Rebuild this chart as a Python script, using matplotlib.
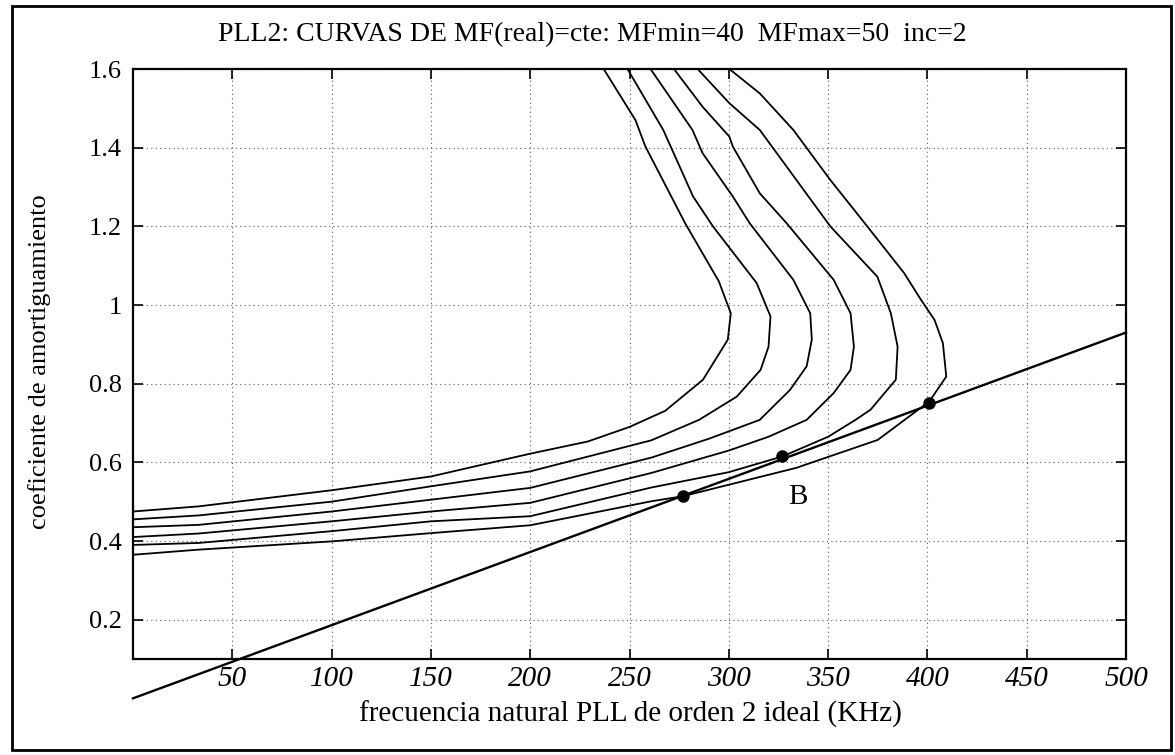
import matplotlib
matplotlib.use("Agg")
import matplotlib.pyplot as plt
from matplotlib.patches import Rectangle

# ---- data ----
x_ticks = [50, 100, 150, 200, 250, 300, 350, 400, 450, 500]
x_tick_labels = ["50", "100", "150", "200", "250", "300", "350", "400", "450", "500"]
y_ticks = [0.2, 0.4, 0.6, 0.8, 1.0, 1.2, 1.4, 1.6]
y_tick_labels = ["0.2", "0.4", "0.6", "0.8", "1", "1.2", "1.4", "1.6"]

mf40_x = [0, 33, 100, 150, 200, 229, 250, 268, 287, 299.5, 301, 295, 278, 258, 253, 237]
mf40_y = [0.475, 0.488, 0.529, 0.564, 0.622, 0.653, 0.690, 0.731, 0.810, 0.912, 0.979, 1.060, 1.208, 1.403, 1.470, 1.6]

mf42_x = [0, 33, 100, 150, 200, 261, 285, 304, 316, 320, 321, 314, 292, 282, 267, 249]
mf42_y = [0.455, 0.465, 0.500, 0.539, 0.577, 0.656, 0.708, 0.767, 0.835, 0.894, 0.971, 1.056, 1.200, 1.276, 1.445, 1.6]

mf44_x = [0, 33, 100, 150, 200, 261, 290, 315.6, 330.8, 339.2, 341.8, 341, 332.5, 310.5, 302, 286.8, 281.7, 260.6]
mf44_y = [0.435, 0.441, 0.475, 0.505, 0.535, 0.612, 0.660, 0.708, 0.784, 0.844, 0.912, 0.979, 1.064, 1.208, 1.276, 1.386, 1.445, 1.6]

mf46_x = [0, 33, 100, 150, 200, 261, 300, 320, 339.2, 352.8, 361.3, 363, 361.3, 352.8, 329.1, 315.6, 302, 300.3, 286.8, 281.7, 272.4]
mf46_y = [0.410, 0.419, 0.450, 0.475, 0.497, 0.573, 0.630, 0.665, 0.708, 0.776, 0.835, 0.894, 0.979, 1.064, 1.208, 1.284, 1.403, 1.428, 1.504, 1.538, 1.6]

mf48_x = [0, 33, 100, 150, 200, 261, 300, 327, 350, 363.8, 371.4, 384.1, 385, 381.6, 374.8, 351.1, 329.1, 315.6, 300.3, 284.3]
mf48_y = [0.390, 0.395, 0.425, 0.450, 0.463, 0.536, 0.575, 0.615, 0.665, 0.708, 0.734, 0.810, 0.894, 0.979, 1.072, 1.200, 1.352, 1.445, 1.513, 1.6]

mf50_x = [0, 33, 100, 150, 200, 261, 277, 334, 375, 401, 409.5, 407.8, 403.6, 396.8, 388.3, 369.7, 351.1, 332.5, 315.6, 300.3]
mf50_y = [0.365, 0.378, 0.399, 0.420, 0.440, 0.501, 0.514, 0.586, 0.657, 0.755, 0.818, 0.903, 0.962, 1.013, 1.081, 1.200, 1.318, 1.445, 1.538, 1.6]

curves_x = [mf40_x, mf42_x, mf44_x, mf46_x, mf48_x, mf50_x]
curves_y = [mf40_y, mf42_y, mf44_y, mf46_y, mf48_y, mf50_y]

line_x = [0, 500]
line_y = [0.0, 0.93]

dots_x = [277, 327, 401]
dots_y = [0.514, 0.616, 0.752]

label_B_x, label_B_y = 335, 0.513

# ---- figure ----
plt.rcParams['font.family'] = ['Liberation Serif', 'DejaVu Serif']
fig = plt.figure(figsize=(11.75, 7.55), dpi=100)
ax = fig.add_axes([133/1175, 1 - 659/755, (1126-133)/1175, (659-69)/755])

for cx, cy in zip(curves_x, curves_y):
    ax.plot(cx, cy, color='black', lw=1.3)

ax.plot(line_x, line_y, color='black', lw=1.7, clip_on=False)
ax.plot(dots_x, dots_y, 'o', color='black', ms=8, zorder=5)
ax.text(label_B_x, label_B_y, "B", fontsize=21, ha='center', va='center')

ax.set_xlim(0, 500)
ax.set_ylim(0.1, 1.6)
ax.set_xticks(x_ticks)
ax.set_xticklabels(x_tick_labels, fontstyle='italic', fontsize=21)
ax.set_yticks(y_ticks)
ax.set_yticklabels(y_tick_labels, fontsize=19)
ax.tick_params(direction='in', length=7, width=1.2, top=True, right=True, pad=8)
ax.tick_params(axis='x', pad=5)
ax.grid(True, color='0.35', linestyle=(0, (1, 3)), linewidth=0.8)
for s in ax.spines.values():
    s.set_linewidth(1.6)

fig.text(592/1175, 1 - 35/755, "PLL2: CURVAS DE MF(real)=cte: MFmin=40  MFmax=50  inc=2",
         ha='center', va='center', fontsize=20)
fig.text(630/1175, 1 - 714/755, "frecuencia natural PLL de orden 2 ideal (KHz)",
         ha='center', va='center', fontsize=21)
fig.text(40/1175, 1 - 362/755, "coeficiente de amortiguamiento",
         ha='center', va='center', rotation=90, fontsize=19)

fig.patches.append(Rectangle((12/1175, 1 - 750/755), (1171-12)/1175, (750-6)/755,
                             transform=fig.transFigure, fill=False, lw=2, ec='black'))

fig.savefig("out.png", dpi=100)
